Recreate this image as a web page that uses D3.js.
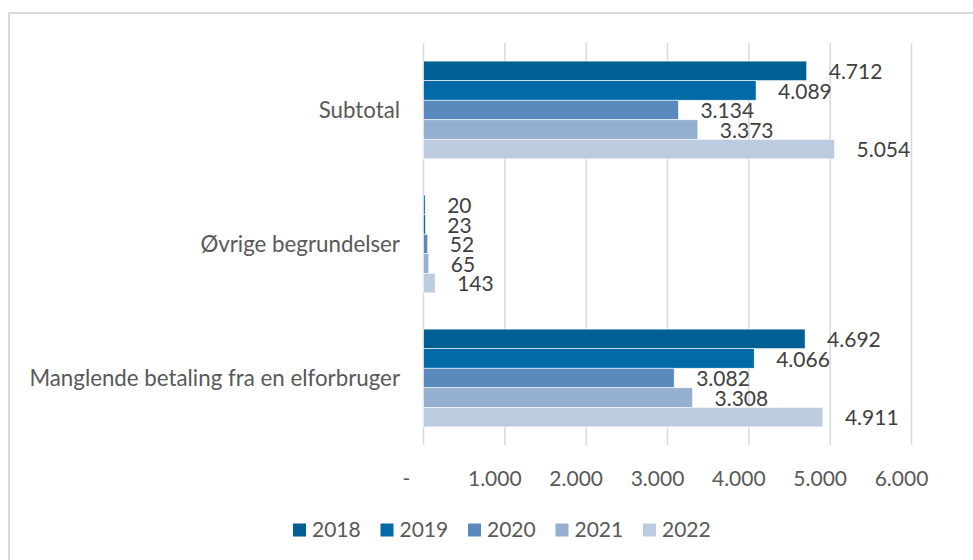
<!DOCTYPE html>
<html><head><meta charset="utf-8">
<script src="https://cdn.jsdelivr.net/npm/d3@7"></script>
<style>
html,body{margin:0;padding:0;background:#fff;}
svg{display:block;font-family:Lato,"Open Sans",sans-serif;}
</style></head>
<body><svg id="c" width="973" height="560"></svg>
<script>
const categories = ["Subtotal", "Øvrige begrundelser", "Manglende betaling fra en elforbruger"];
const years = ["2018", "2019", "2020", "2021", "2022"];
const values2018 = [4712, 20, 4692];
const values2019 = [4089, 23, 4066];
const values2020 = [3134, 52, 3082];
const values2021 = [3373, 65, 3308];
const values2022 = [5054, 143, 4911];
const seriesValues = [values2018, values2019, values2020, values2021, values2022];
const colors = ["#025f93", "#036aa8", "#5a8abd", "#95afd0", "#bccbe0"];
const tickValues = [0, 1000, 2000, 3000, 4000, 5000, 6000];
const tickLabels = ["-", "1.000", "2.000", "3.000", "4.000", "5.000", "6.000"];

const svg = d3.select("#c");
const fmt = v => d3.format(",")(v).replace(/,/g, ".");

// chart border
svg.append("rect").attr("x", 9).attr("y", 13).attr("width", 1000).attr("height", 600)
  .attr("fill", "none").attr("stroke", "#d9d9d9").attr("stroke-width", 2);

const x = d3.scaleLinear().domain([0, 6000]).range([423.5, 911.5]);
const y = d3.scaleBand().domain(categories).range([43, 445]).paddingInner(0.27).paddingOuter(0.135);
const yi = d3.scaleBand().domain(years).range([0, y.bandwidth()]);
const color = d3.scaleOrdinal().domain(years).range(colors);

// gridlines
svg.append("g").selectAll("line").data(tickValues).join("line")
  .attr("x1", d => x(d)).attr("x2", d => x(d)).attr("y1", 43).attr("y2", 445)
  .attr("stroke", "#d9d9d9").attr("stroke-width", 1.5);

// tick labels
svg.append("g").selectAll("text").data(tickValues).join("text")
  .attr("x", d => x(d) + (d === 0 ? -17 : -10)).attr("y", 479)
  .attr("dy", "0.35em").attr("text-anchor", "middle")
  .attr("fill", "#595959").attr("font-size", 21)
  .text((d, i) => tickLabels[i]);

// category labels
svg.append("g").selectAll("text").data(categories).join("text")
  .attr("x", 400).attr("y", d => y(d) + y.bandwidth() / 2)
  .attr("dy", "0.35em").attr("text-anchor", "end")
  .attr("fill", "#595959").attr("font-size", 22.3)
  .text(d => d);

// bars
const rows = [];
years.forEach((yr, si) => categories.forEach((c, ci) => rows.push({yr, c, v: seriesValues[si][ci]})));

svg.append("g").selectAll("rect").data(rows).join("rect")
  .attr("x", x(0)).attr("y", d => y(d.c) + yi(d.yr))
  .attr("width", d => x(d.v) - x(0)).attr("height", yi.bandwidth())
  .attr("fill", d => color(d.yr)).attr("stroke", "#fff").attr("stroke-width", 0.6);

svg.append("g").selectAll("text").data(rows).join("text")
  .attr("x", d => x(d.v) + 22).attr("y", d => y(d.c) + yi(d.yr) + yi.bandwidth() / 2 + 1)
  .attr("dy", "0.35em").attr("fill", "#404040").attr("font-size", 21)
  .text(d => fmt(d.v));

// legend
const lg = svg.append("g").selectAll("g").data(years).join("g")
  .attr("transform", (d, i) => `translate(${293 + i * 87.5},530)`);
lg.append("rect").attr("x", 0).attr("y", -6.5).attr("width", 13).attr("height", 13).attr("fill", d => color(d));
lg.append("text").attr("x", 19).attr("y", 0).attr("dy", "0.35em")
  .attr("fill", "#595959").attr("font-size", 21).text(d => d);
</script></body></html>
